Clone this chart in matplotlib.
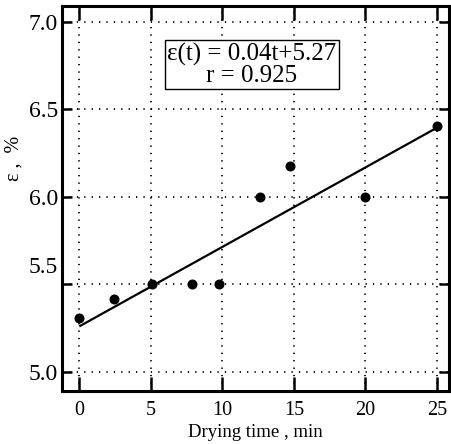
import matplotlib
matplotlib.use("Agg")
import matplotlib.pyplot as plt
import matplotlib.transforms as mtransforms

# Data
drying_time = [0.0, 2.4, 5.1, 7.9, 9.8, 12.6, 14.7, 20.0, 25.0]
epsilon = [5.31, 5.415, 5.50, 5.50, 5.50, 6.00, 6.175, 6.00, 6.405]
fit_t = [0.0, 24.9]
fit_eps = [5.26, 6.39]
x_ticks = [0, 5, 10, 15, 20, 25]
y_ticks = [5.0, 5.5, 6.0, 6.5, 7.0]
y_tick_labels = ["5.0", "5.5", "6.0", "6.5", "7.0"]
equation_text = "\u03b5(t) = 0.04t+5.27\nr = 0.925"

serif = ["Liberation Serif", "DejaVu Serif"]
plt.rcParams["font.family"] = serif

fig = plt.figure(figsize=(4.51, 4.44), dpi=100)
ax = fig.add_axes([62 / 451, 1 - 391 / 444, (449 - 62) / 451, (391 - 6) / 444])

ax.plot(fit_t, fit_eps, color="black", lw=1.6, solid_capstyle="butt", zorder=3)
ax.plot(drying_time, epsilon, "o", color="black", ms=6.2, zorder=4)

ax.set_xlim(-1.21, 25.85)
ax.set_ylim(4.891, 7.09)

ax.set_xticks(x_ticks)
ax.set_yticks(y_ticks)
ax.set_yticklabels(y_tick_labels)

ax.grid(True, color="black", linestyle=(0, (0.7, 3.4)), linewidth=1.3)
ax.set_axisbelow(True)

for s in ax.spines.values():
    s.set_linewidth(2.2)

ax.tick_params(axis="x", which="major", direction="in", length=10, width=1.8,
               top=True, labelsize=14.5, pad=7)
ax.tick_params(axis="y", which="major", direction="in", length=7.5, width=1.8,
               right=True, labelsize=17, pad=3)

# quirk: the 5.5 label sits above its gridline in the reference
offset = mtransforms.ScaledTranslation(0, 19 / 100, fig.dpi_scale_trans)
lbl = ax.get_yticklabels()[1]
lbl.set_transform(lbl.get_transform() + offset)

ax.set_xlabel("Drying time , min", fontsize=13.5)
ax.xaxis.set_label_coords(0.5, -0.085)
ax.set_ylabel("\u03b5 ,  %", fontsize=14.5)
ax.yaxis.set_label_coords(-0.10, 0.603)

ax.text(12.05, 6.754, equation_text, fontsize=18, ha="center", va="center",
        linespacing=0.95,
        bbox=dict(boxstyle="square,pad=0.1", facecolor="white",
                  edgecolor="black", linewidth=1.0), zorder=5)

fig.savefig("out.png", dpi=100)
